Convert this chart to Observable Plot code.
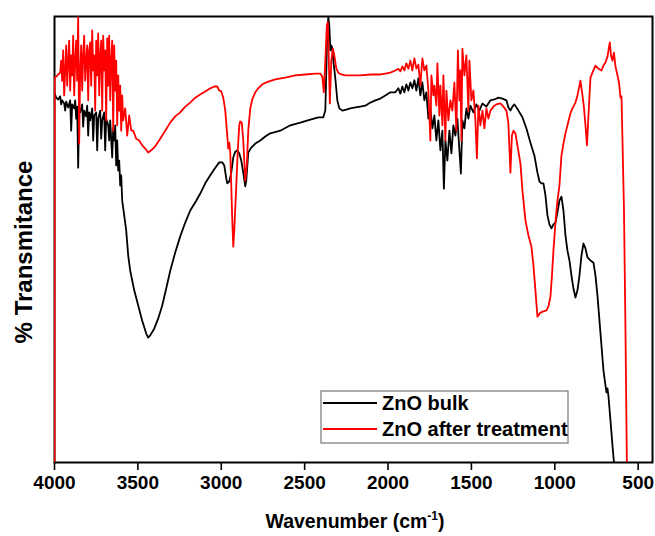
<!DOCTYPE html>
<html>
<head>
<meta charset="utf-8">
<script src="https://cdn.jsdelivr.net/npm/d3@7"></script>
<script src="https://cdn.jsdelivr.net/npm/@observablehq/plot@0.6"></script>
<style>
  html, body { margin: 0; padding: 0; background: #fff; }
  #chart { width: 655px; height: 536px; }
</style>
</head>
<body>
<div id="chart"></div>
<script>
// FTIR spectra of ZnO: wavenumber (cm-1) and relative transmittance (arbitrary units)
const seriesNames = ["ZnO bulk", "ZnO after treatment"];
const seriesColors = ["#000000", "#ff0000"];
const xTicks = [4000, 3500, 3000, 2500, 2000, 1500, 1000, 500];

const bulkWavenumber = [
  3999, 3990, 3978, 3966, 3960, 3954, 3942, 3936, 3930, 3918, 3906, 3900, 3894, 3882, 3876, 3870, 3864, 3858, 3852, 3846,
  3834, 3828, 3822, 3810, 3804, 3798, 3792, 3786, 3774, 3768, 3762, 3750, 3744, 3738, 3726, 3720, 3714, 3702, 3696, 3690,
  3678, 3672, 3666, 3654, 3648, 3642, 3636, 3630, 3624, 3618, 3612, 3606, 3600, 3594, 3582, 3570, 3558, 3546, 3522, 3498,
  3474, 3450, 3438, 3426, 3402, 3378, 3354, 3330, 3306, 3276, 3246, 3216, 3186, 3150, 3126, 3096, 3066, 3036, 3012, 2994,
  2982, 2970, 2964, 2952, 2940, 2928, 2916, 2904, 2892, 2880, 2868, 2856, 2850, 2838, 2820, 2796, 2766, 2736, 2706, 2646,
  2586, 2526, 2466, 2418, 2388, 2376, 2370, 2364, 2358, 2352, 2346, 2340, 2334, 2328, 2316, 2304, 2292, 2274, 2250, 2226,
  2196, 2166, 2136, 2106, 2076, 2046, 2016, 1986, 1956, 1938, 1926, 1914, 1902, 1890, 1878, 1866, 1854, 1842, 1830, 1818,
  1806, 1794, 1782, 1770, 1758, 1746, 1734, 1722, 1710, 1698, 1686, 1674, 1665, 1656, 1644, 1632, 1620, 1608, 1596, 1584,
  1572, 1563, 1554, 1542, 1530, 1518, 1506, 1488, 1470, 1452, 1434, 1410, 1386, 1362, 1338, 1314, 1290, 1278, 1266, 1254,
  1242, 1218, 1194, 1170, 1146, 1122, 1104, 1092, 1080, 1068, 1056, 1044, 1032, 1020, 1008, 996, 984, 972, 960, 948,
  936, 924, 912, 900, 888, 876, 864, 852, 840, 828, 816, 804, 786, 768, 756, 744, 732, 720, 708, 696,
  690, 684, 678, 666, 654, 645, 640
];
const bulkTransmittance = [
  82.7, 81.8, 81.4, 82.1, 80.3, 81.2, 80.5, 78.9, 80.9, 79.6, 81.2, 74.4, 80.3, 79.4, 81.2, 77.1, 79.8, 66.1, 79.4, 78.5,
  80.3, 75.3, 78.9, 77.6, 80.0, 73.3, 78.5, 76.7, 79.4, 72.2, 77.8, 78.5, 70.0, 77.1, 78.9, 72.6, 76.7, 78.5, 70.0, 77.1,
  75.6, 72.2, 76.7, 68.4, 74.9, 72.2, 75.6, 66.6, 72.2, 65.5, 67.7, 62.1, 64.4, 58.7, 55.4, 52.0, 46.4, 43.0, 38.6, 35.2,
  31.8, 28.9, 28.0, 28.5, 30.0, 32.3, 35.2, 39.0, 43.0, 47.1, 50.7, 53.8, 56.5, 58.7, 60.3, 62.6, 64.4, 66.1, 67.3, 67.3,
  66.6, 63.7, 62.6, 63.0, 65.0, 68.4, 69.7, 70.0, 69.3, 67.7, 65.0, 61.9, 63.2, 69.5, 70.6, 71.5, 72.2, 73.1, 73.8, 74.4,
  75.6, 76.2, 76.9, 77.4, 77.4, 78.9, 87.9, 96.9, 99.8, 98.0, 92.4, 93.5, 92.8, 90.1, 86.1, 81.2, 79.4, 78.9, 79.1, 79.4,
  79.6, 79.8, 80.0, 80.7, 81.2, 81.6, 82.3, 83.0, 83.0, 83.9, 82.7, 84.3, 83.0, 84.8, 83.4, 85.2, 83.9, 85.7, 83.4, 86.1,
  82.3, 85.2, 81.2, 83.0, 77.1, 79.4, 74.9, 77.8, 72.2, 76.7, 70.0, 74.4, 61.4, 72.2, 67.7, 74.4, 69.3, 75.6, 73.3, 77.1,
  70.0, 64.8, 76.7, 74.9, 79.4, 77.1, 80.0, 78.5, 80.3, 78.9, 80.5, 79.8, 81.2, 81.4, 81.8, 81.6, 81.2, 79.6, 78.9, 79.8,
  80.3, 78.9, 77.4, 74.9, 71.7, 68.8, 65.0, 63.0, 62.6, 62.6, 59.9, 55.4, 53.4, 52.5, 53.4, 53.8, 56.1, 58.7, 59.6, 56.5,
  50.9, 47.5, 45.3, 41.9, 39.0, 37.0, 38.6, 41.9, 46.4, 49.1, 48.0, 46.0, 45.3, 44.8, 41.9, 37.4, 31.8, 26.2, 20.6, 17.3,
  15.7, 16.6, 14.8, 9.4, 3.8, 0.0, -3.0
];

const treatedWavenumber = [
  4000, 3999, 3990, 3978, 3966, 3960, 3954, 3948, 3942, 3936, 3930, 3924, 3918, 3912, 3906, 3900, 3894, 3888, 3882, 3876,
  3870, 3864, 3858, 3852, 3846, 3840, 3834, 3828, 3822, 3816, 3810, 3804, 3798, 3792, 3786, 3780, 3774, 3768, 3762, 3756,
  3750, 3744, 3738, 3732, 3726, 3720, 3714, 3708, 3702, 3696, 3690, 3684, 3678, 3672, 3666, 3660, 3654, 3648, 3642, 3636,
  3630, 3624, 3618, 3612, 3606, 3600, 3594, 3588, 3576, 3564, 3552, 3540, 3528, 3510, 3492, 3474, 3456, 3438, 3420, 3396,
  3366, 3336, 3306, 3276, 3246, 3216, 3186, 3156, 3126, 3096, 3066, 3042, 3024, 3012, 3000, 2988, 2976, 2964, 2958, 2952,
  2946, 2940, 2934, 2928, 2922, 2910, 2901, 2892, 2886, 2877, 2868, 2856, 2847, 2838, 2826, 2814, 2796, 2778, 2754, 2718,
  2676, 2616, 2556, 2496, 2436, 2406, 2394, 2385, 2376, 2367, 2361, 2355, 2349, 2340, 2331, 2322, 2310, 2298, 2280, 2256,
  2226, 2166, 2106, 2046, 2016, 1986, 1956, 1938, 1926, 1914, 1902, 1890, 1878, 1866, 1854, 1842, 1830, 1818, 1806, 1794,
  1782, 1770, 1758, 1746, 1740, 1728, 1722, 1710, 1704, 1692, 1686, 1674, 1668, 1656, 1650, 1638, 1626, 1614, 1602, 1590,
  1581, 1572, 1566, 1560, 1554, 1542, 1530, 1518, 1512, 1500, 1488, 1476, 1467, 1458, 1446, 1434, 1422, 1410, 1398, 1386,
  1368, 1350, 1326, 1308, 1290, 1278, 1266, 1257, 1248, 1236, 1224, 1206, 1194, 1176, 1158, 1140, 1128, 1116, 1104, 1086,
  1068, 1050, 1038, 1026, 1017, 1008, 996, 984, 972, 960, 948, 936, 924, 906, 894, 876, 864, 852, 846, 834,
  825, 816, 807, 798, 786, 774, 756, 738, 720, 708, 696, 684, 678, 670, 663, 654, 645, 636, 624, 615,
  606, 600, 594, 585, 576, 567
];
const treatedTransmittance = [
  -5.0, 86.3, 86.5, 87.0, 87.4, 90.1, 85.6, 92.4, 82.3, 87.9, 93.5, 84.5, 90.1, 94.6, 83.4, 91.3, 86.8, 95.7, 82.3, 90.1,
  94.6, 85.6, 99.8, 71.5, 87.9, 93.5, 83.4, 91.3, 95.7, 85.6, 90.1, 93.5, 81.2, 92.4, 94.2, 84.5, 96.9, 87.9, 91.3, 78.9,
  94.6, 86.8, 96.2, 82.3, 91.3, 94.6, 78.9, 95.7, 87.9, 92.4, 76.7, 95.1, 84.5, 95.7, 81.2, 90.1, 94.6, 74.4, 93.5, 83.4,
  90.1, 75.6, 86.8, 78.9, 84.5, 74.4, 82.3, 76.7, 79.4, 73.3, 77.8, 74.4, 74.4, 72.6, 72.2, 71.1, 70.4, 69.5, 70.0, 70.9,
  72.6, 74.4, 76.2, 77.6, 78.5, 79.8, 80.7, 81.8, 82.5, 83.2, 83.9, 84.3, 84.3, 83.4, 83.2, 81.8, 78.9, 73.3, 70.4, 71.7,
  69.5, 62.1, 54.3, 48.4, 52.0, 62.1, 70.0, 75.6, 76.5, 76.2, 72.2, 63.2, 66.6, 74.4, 79.4, 81.4, 83.0, 83.9, 84.8, 85.4,
  85.9, 86.3, 86.8, 87.0, 87.2, 87.2, 86.5, 83.0, 90.1, 98.0, 98.7, 90.1, 80.5, 90.1, 92.8, 91.3, 88.3, 87.4, 87.0, 86.8,
  86.8, 86.8, 87.0, 87.0, 87.2, 87.4, 87.9, 88.3, 87.7, 88.8, 87.9, 89.5, 88.3, 90.1, 87.9, 90.6, 88.3, 89.2, 84.5, 90.6,
  87.9, 89.0, 83.4, 72.2, 86.8, 82.3, 84.5, 80.0, 89.5, 77.8, 84.5, 75.6, 86.8, 72.2, 83.4, 76.7, 81.2, 78.9, 85.2, 74.4,
  92.4, 81.2, 87.9, 72.2, 92.8, 86.8, 91.3, 78.9, 90.1, 81.2, 83.4, 76.7, 68.2, 80.0, 75.6, 78.9, 74.9, 79.4, 77.1, 78.9,
  79.8, 80.3, 80.5, 79.8, 78.9, 76.0, 65.0, 73.3, 74.4, 73.8, 71.1, 67.0, 61.0, 54.3, 50.9, 48.4, 44.2, 38.6, 32.7, 33.6,
  33.9, 34.1, 35.0, 37.2, 41.9, 47.5, 53.8, 58.7, 62.1, 68.8, 71.5, 73.8, 75.6, 78.3, 79.4, 80.7, 82.3, 84.5, 85.6, 82.3,
  79.6, 75.6, 71.1, 77.8, 86.3, 87.4, 89.0, 88.3, 87.9, 89.0, 89.7, 91.0, 92.4, 94.2, 91.3, 90.1, 91.9, 88.8, 86.8, 85.2,
  81.8, 82.1, 72.2, 56.5, 29.6, -3.0
];

const spectra = [
  ...bulkWavenumber.map((w, i) => ({series: seriesNames[0], wavenumber: w, t: bulkTransmittance[i]})),
  ...treatedWavenumber.map((w, i) => ({series: seriesNames[1], wavenumber: w, t: treatedTransmittance[i]}))
];

const W = 655, H = 536;
const M = {top: 16, right: 3, bottom: 74, left: 54};
const FONT = "'Liberation Sans', Arial, Helvetica, sans-serif";

const chart = Plot.plot({
  width: W,
  height: H,
  marginTop: M.top,
  marginRight: M.right,
  marginBottom: M.bottom,
  marginLeft: M.left,
  style: {fontFamily: FONT, fontSize: "19px", fontWeight: "bold", background: "#fff", color: "#000", overflow: "visible"},
  x: {domain: [4000, 414], axis: null},
  y: {domain: [0, 100], axis: null},
  color: {domain: seriesNames, range: seriesColors},
  marks: [
    Plot.frame({stroke: "#000", strokeWidth: 2}),
    Plot.axisX({
      ticks: xTicks, tickFormat: d => String(d), tickSize: 8, tickPadding: 5,
      strokeWidth: 1.6, fontSize: 19, fontWeight: "bold", label: null
    }),
    Plot.line(spectra, {
      x: "wavenumber", y: "t", z: "series", stroke: "series",
      strokeWidth: 1.8, curve: "linear", clip: true
    })
  ]
});
document.getElementById("chart").appendChild(chart);

// Axis titles and legend
const svg = d3.select(chart);

const xTitle = svg.append("text")
  .attr("x", 355).attr("y", 528)
  .attr("text-anchor", "middle")
  .style("font-family", FONT).style("font-weight", "bold").style("font-size", "19.5px")
  .attr("fill", "#000");
xTitle.append("tspan").text("Wavenumber (cm");
xTitle.append("tspan").attr("dy", -8).style("font-size", "12px").text("-1");
xTitle.append("tspan").attr("dy", 8).text(")");

svg.append("text")
  .attr("transform", `translate(32, ${(M.top + 236)}) rotate(-90)`)
  .attr("text-anchor", "middle")
  .style("font-family", FONT).style("font-weight", "bold").style("font-size", "24px")
  .attr("fill", "#000")
  .text("% Transmitance");

const legend = svg.append("g").attr("text-anchor", "start");
legend.append("rect")
  .attr("x", 321).attr("y", 391).attr("width", 247).attr("height", 52)
  .attr("fill", "#fff").attr("stroke", "#777").attr("stroke-width", 1.2);
seriesNames.forEach((name, i) => {
  const yLine = 403 + i * 26;
  legend.append("line")
    .attr("x1", 323).attr("x2", 377).attr("y1", yLine).attr("y2", yLine)
    .attr("stroke", seriesColors[i]).attr("stroke-width", 1.8);
  legend.append("text")
    .attr("x", 382).attr("y", yLine + 7)
    .attr("text-anchor", "start")
    .style("font-family", FONT).style("font-weight", "bold").style("font-size", "20px")
    .attr("fill", "#000")
    .text(name);
});
</script>
</body>
</html>
